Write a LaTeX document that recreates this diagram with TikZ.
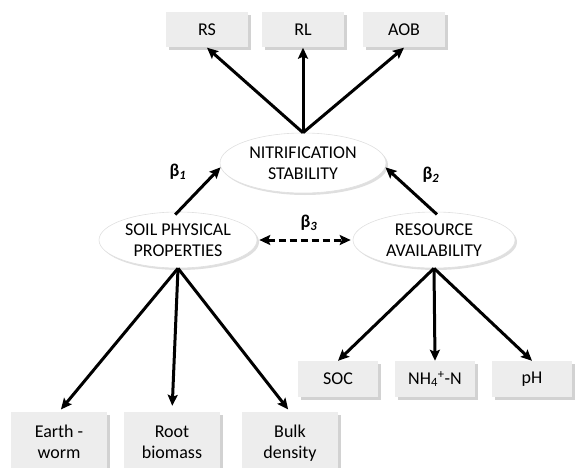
\documentclass[tikz,border=0pt]{standalone}
\usepackage{fontspec}
\setmainfont{Carlito}
\usetikzlibrary{shapes.geometric,arrows.meta,shadows}
\begin{document}
\begin{tikzpicture}[x=1pt,y=-1pt,
  font=\fontsize{18}{21}\selectfont,
  box/.style={draw=none,fill=black!7,minimum width=82pt,minimum height=35pt,inner sep=0pt,
    drop shadow={shadow xshift=2.5pt,shadow yshift=-2.5pt,fill=black!35,opacity=0.5}},
  tallbox/.style={box,minimum width=96pt,minimum height=60pt,align=center,text depth=0pt},
  oval/.style={ellipse,draw=black!12,line width=0.6pt,fill=white,inner sep=0pt,align=center,
    drop shadow={shadow xshift=2pt,shadow yshift=-2pt,fill=black!25,opacity=0.5}},
  arr/.style={line width=3pt,-{Stealth[length=11pt,width=10pt,inset=2pt]}},
  darr/.style={line width=3pt,dash pattern=on 7pt off 4pt,{Stealth[length=11pt,width=10pt,inset=2pt]}-{Stealth[length=11pt,width=10pt,inset=2pt]}},
  lbl/.style={font=\fontsize{18}{21}\selectfont\bfseries}
]
\useasboundingbox (0,0) rectangle (575,468);
% top boxes
\node[box] (rs) at (207,30) {RS};
\node[box] (rl) at (303,30) {RL};
\node[box] (aob) at (404,30) {AOB};
% ellipses
\node[oval,minimum width=166pt,minimum height=60pt] (nit) at (303,163) {NITRIFICATION\\STABILITY};
\node[oval,minimum width=158pt,minimum height=56pt] (soil) at (178,240) {SOIL PHYSICAL\\PROPERTIES};
\node[oval,minimum width=162pt,minimum height=56pt] (res) at (434,240) {RESOURCE\\AVAILABILITY};
% bottom boxes right
\node[box,minimum width=80pt,minimum height=36pt] (soc) at (338,379) {SOC};
\node[box,minimum width=80pt,minimum height=36pt] (nh) at (435,379) {NH\textsubscript{4}\textsuperscript{+}-N};
\node[box,minimum width=80pt,minimum height=36pt] (ph) at (532,379) {pH};
% bottom boxes left
\node[tallbox] (ew) at (59,442) {Earth -\\worm};
\node[tallbox] (rb) at (172,442) {Root\\biomass};
\node[tallbox] (bd) at (290,442) {Bulk\\density};
% arrows top
\draw[arr] (nit.north) -- (rs.south);
\draw[arr] (nit.north) -- (rl.south);
\draw[arr] (nit.north) -- (aob.south);
% beta arrows
\draw[arr,shorten <=-4pt] (soil.north) -- (nit.183);
\draw[arr,shorten <=-4pt] (res.north) -- (nit.-3);
\draw[darr,shorten <=2pt,shorten >=2pt] (soil.east) -- (res.west);
% lower arrows
\draw[arr,shorten >=3pt] (soil.south) -- (ew.north);
\draw[arr,shorten >=6pt] (soil.south) -- (rb.north);
\draw[arr,shorten >=3pt] (soil.south) -- (bd.north);
\draw[arr] (res.south) -- (soc.north);
\draw[arr] (res.south) -- (nh.north);
\draw[arr] (res.south) -- (ph.north);
% labels
\node[lbl] (b1) at (178,172) {β\textsubscript{\itshape 1}};
\node[lbl] (b2) at (431,175) {β\textsubscript{\itshape 2}};
\node[lbl] (b3) at (309,223) {β\textsubscript{\itshape 3}};
\end{tikzpicture}
\end{document}
